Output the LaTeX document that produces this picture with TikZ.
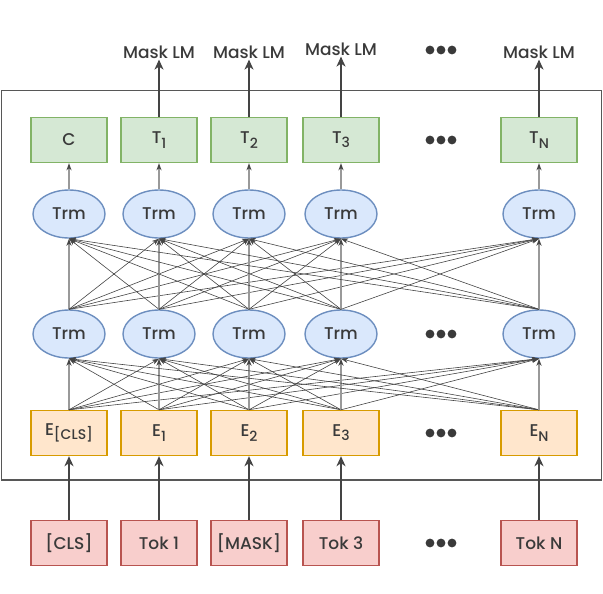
\documentclass[tikz,border=0pt]{standalone}
\usepackage{fontspec}
\setmainfont{Poppins}[UprightFont=* Medium]
\usetikzlibrary{arrows.meta,shapes.geometric}
\definecolor{txt}{HTML}{3A3A3A}
\definecolor{dark}{HTML}{444444}
\definecolor{vgray}{HTML}{999999}
\definecolor{gfill}{HTML}{D5E8D4}\definecolor{gline}{HTML}{82B366}
\definecolor{bfill}{HTML}{DAE8FC}\definecolor{bline}{HTML}{6C8EBF}
\definecolor{ofill}{HTML}{FFE6CC}\definecolor{oline}{HTML}{D79B00}
\definecolor{rfill}{HTML}{F8CECC}\definecolor{rline}{HTML}{B85450}
\newcommand\sbs[1]{\raisebox{-0.45ex}{\fontsize{14}{14}\selectfont #1}}
\begin{document}
\begin{tikzpicture}[x=1pt,y=-1pt,
  font=\fontsize{17}{19}\selectfont, text=txt,
  boxst/.style={draw, line width=1.4pt, minimum width=76pt, minimum height=45pt, inner sep=0pt},
  tbox/.style={boxst, fill=gfill, draw=gline},
  ebox/.style={boxst, fill=ofill, draw=oline},
  tokbox/.style={boxst, fill=rfill, draw=rline},
  trm/.style={ellipse, draw=bline, fill=bfill, line width=1.4pt, minimum width=72pt, minimum height=48pt, inner sep=0pt},
  lbl/.style={inner sep=1pt},
  thick arrow/.style={draw=dark, line width=2.2pt, -{Stealth[length=10pt,width=9pt,inset=3pt]}},
  cross/.style={draw=dark, line width=0.6pt, -{Stealth[length=7pt,width=5pt,inset=2pt]}},
  vert/.style={draw=vgray, line width=1.1pt, -{Stealth[length=7pt,width=5pt,inset=2pt,color=dark]}},
  dotst/.style={fill=txt}
]
\useasboundingbox (0,0) rectangle (603,594);
\draw[draw=dark!90, line width=1.8pt] (1.5,90.5) rectangle (601.5,480);

% columns
\foreach \n/\x in {1/69,2/159,3/249,4/341,5/539}{
  \node[trm] (b\n) at (\x,334) {Trm};
  \node[trm] (u\n) at (\x,214) {Trm};
}
\node[tbox] (t1) at (69,140) {C};
\node[tbox] (t2) at (159,140) {T\sbs{1}};
\node[tbox] (t3) at (249,140) {T\sbs{2}};
\node[tbox] (t4) at (341,140) {T\sbs{3}};
\node[tbox] (t5) at (539,140) {T\sbs{N}};

\node[ebox] (e1) at (69,433) {E\sbs{[CLS]}};
\node[ebox] (e2) at (159,433) {E\sbs{1}};
\node[ebox] (e3) at (249,433) {E\sbs{2}};
\node[ebox] (e4) at (341,433) {E\sbs{3}};
\node[ebox] (e5) at (539,433) {E\sbs{N}};

\node[tokbox] (k1) at (69,543) {[CLS]};
\node[tokbox] (k2) at (159,543) {Tok 1};
\node[tokbox] (k3) at (249,543) {[MASK]};
\node[tokbox] (k4) at (341,543) {Tok 3};
\node[tokbox] (k5) at (539,543) {Tok N};

\node[lbl] (m2) at (159,52) {Mask LM};
\node[lbl] (m3) at (249,52) {Mask LM};
\node[lbl] (m4) at (341,49) {Mask LM};
\node[lbl] (m5) at (539,52) {Mask LM};

% connections
\foreach \i in {1,...,5}{
  \foreach \j in {1,...,5}{
    \ifnum\i=\j
      \draw[vert] (e\i.north) -- (b\j.south);
      \draw[vert] (b\i.north) -- (u\j.south);
    \else
      \draw[cross] (e\i.north) -- (b\j.south);
      \draw[cross] (b\i.north) -- (u\j.south);
    \fi
  }
  \draw[vert] (u\i.north) -- (t\i.south);
  \draw[thick arrow] (k\i.north) -- (e\i.south);
}
\foreach \n in {2,...,5}{
  \draw[thick arrow] (t\n.north) -- (m\n.south);
}

% ellipsis dots
\foreach \y in {50,140,334,433,543}{
  \foreach \dx in {-11,0,11}{
    \fill[dotst] (441+\dx,\y) circle (4.4pt);
  }
}
\end{tikzpicture}
\end{document}
